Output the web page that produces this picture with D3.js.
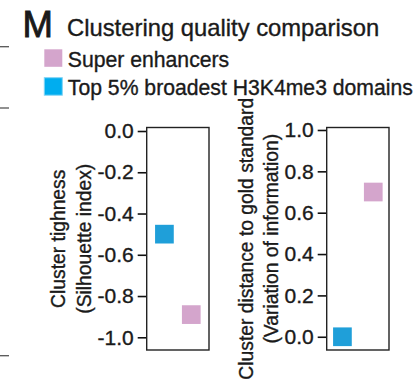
<!DOCTYPE html>
<html>
<head>
<meta charset="utf-8">
<script src="https://cdn.jsdelivr.net/npm/d3@7"></script>
<style>
  body { margin: 0; background: #fff; }
  svg { display: block; font-family: "Liberation Sans", Arial, Helvetica, sans-serif; }
</style>
</head>
<body>
<div class="chart"></div>
<script>
const width = 417;
const height = 386;

// data
const groups = ["Top 5% broadest H3K4me3 domains", "Super enhancers"];
const silhouette = [-0.50, -0.89];
const variationInfo = [0.00, 0.70];
const silhouetteTicks = [0.0, -0.2, -0.4, -0.6, -0.8, -1.0];
const viTicks = [1.0, 0.8, 0.6, 0.4, 0.2, 0.0];
const legendOrder = ["Super enhancers", "Top 5% broadest H3K4me3 domains"];

const color = d3.scaleOrdinal()
    .domain(groups)
    .range(["#1f9fd9", "#d4a5cc"]);

const fmt = v => d3.format(".1f")(v).replace("\u2212", "-");

const svg = d3.select(".chart")
    .append("svg")
        .attr("width", width)
        .attr("height", height);

svg.append("rect")
    .attr("width", width)
    .attr("height", height)
    .attr("fill", "#fff");

// bits of the neighbouring panel at the left edge
svg.append("g")
    .attr("stroke", "#555")
    .attr("stroke-width", 1.3)
    .selectAll("line")
    .data([46.7, 108, 355.7])
    .join("line")
        .attr("x1", 0)
        .attr("x2", 9)
        .attr("y1", d => d)
        .attr("y2", d => d);

const ink = "#1a1a1a";
const heavy = sel => sel.attr("stroke", ink).attr("stroke-width", 0.35);

// title
svg.append("text")
    .attr("x", 22.5)
    .attr("y", 36.7)
    .attr("font-size", 36.5)
    .attr("fill", ink)
    .attr("stroke", ink)
    .attr("stroke-width", 0.9)
    .text("M");

svg.append("text")
    .attr("x", 67)
    .attr("y", 35.5)
    .attr("font-size", 23.8)
    .attr("fill", ink)
    .call(heavy)
    .text("Clustering quality comparison");

// legend
const legend = svg.append("g")
    .selectAll("g")
    .data(legendOrder)
    .join("g")
        .attr("transform", (d, i) => `translate(44.3,${49.3 + i * 28.4})`);

legend.append("rect")
    .attr("width", 18)
    .attr("height", 17.5)
    .attr("fill", d => d === groups[0] ? "#00adef" : color(d))
    .attr("stroke", d => d === groups[0] ? "#80d4f5" : "none")
    .attr("stroke-width", 1);

legend.append("text")
    .attr("x", 23.5)
    .attr("y", 17.2)
    .attr("font-size", 21.2)
    .attr("fill", ink)
    .call(heavy)
    .text(d => d);

const plotTop = 127.5;
const plotBottom = 350;
const boxW = 62.3;

const panels = [
    {
        left: 146.7,
        domain: [-1.0616, 0.017],
        ticks: silhouetteTicks,
        values: silhouette,
        pad: 0.66,
        title: ["Cluster tighness", "(Silhouette index)"],
        titleX: [65, 90.7]
    },
    {
        left: 326.7,
        domain: [-0.064, 1.012],
        ticks: viTicks,
        values: variationInfo,
        pad: 0.51,
        title: ["Cluster distance to gold standard", "(Variation of information)"],
        titleX: [253, 278]
    }
];

panels.forEach(p => {
    const y = d3.scaleLinear()
        .domain(p.domain)
        .range([plotBottom, plotTop]);

    const x = d3.scalePoint()
        .domain(groups)
        .range([p.left, p.left + boxW])
        .padding(p.pad);

    const axis = svg.append("g")
        .attr("transform", `translate(${p.left},0)`)
        .call(d3.axisLeft(y)
            .tickValues(p.ticks)
            .tickFormat(fmt)
            .tickSize(9)
            .tickPadding(4));
    axis.select(".domain").remove();
    axis.selectAll("line")
        .attr("stroke", "#111")
        .attr("stroke-width", 1.6);
    axis.selectAll("text")
        .attr("font-family", "Liberation Sans, Arial, sans-serif")
        .attr("font-size", 21)
        .attr("fill", ink)
        .call(heavy);

    svg.append("rect")
        .attr("x", p.left)
        .attr("y", plotTop)
        .attr("width", boxW)
        .attr("height", plotBottom - plotTop)
        .attr("fill", "none")
        .attr("stroke", "#222")
        .attr("stroke-width", 1.4);

    const sq = 18.7;
    svg.append("g")
        .selectAll("rect")
        .data(groups.map((g, i) => ({g, v: p.values[i]})))
        .join("rect")
            .attr("x", d => x(d.g) - sq / 2)
            .attr("y", d => y(d.v) - sq / 2)
            .attr("width", sq)
            .attr("height", sq)
            .attr("fill", d => color(d.g));

    const cy = (plotTop + plotBottom) / 2;
    svg.append("g")
        .selectAll("text")
        .data(p.title)
        .join("text")
            .attr("transform", (d, i) => `translate(${p.titleX[i]},${cy}) rotate(-90)`)
            .attr("text-anchor", "middle")
            .attr("font-size", 19.3)
            .attr("fill", ink)
            .call(heavy)
            .text(d => d);
});
</script>
</body>
</html>
